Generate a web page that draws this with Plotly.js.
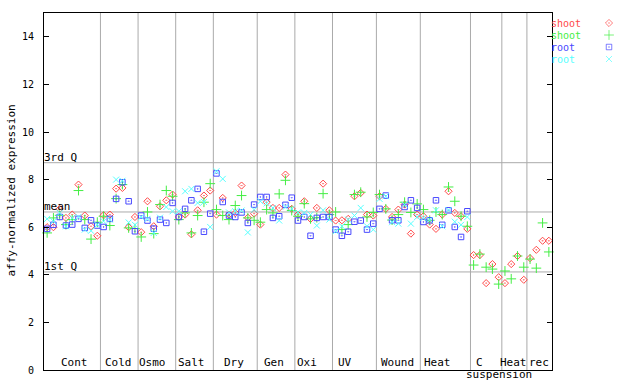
<!DOCTYPE html>
<html><head><meta charset="utf-8">
<script src="https://cdn.plot.ly/plotly-3.0.1.min.js"></script>
<style>html,body{margin:0;padding:0;background:#fff}#chart{width:640px;height:384px}</style>
</head><body><div id="chart"></div>
<script>
// ---- data ----
const groupNames = ['Cont','Cold','Osmo','Salt','Dry','Gen','Oxi','UV','Wound','Heat','C','Heat','rec'];
const groupSizes = [9,6,6,6,7,6,6,7,7,8,5,4,4];
const seriesNames = ['shoot','shoot','root','root'];
const shoot1 = [6.0,6.0,6.77,6.39,6.53,7.79,6.49,6.04,5.64,
  6.5,6.53,7.62,7.65,6.0,6.43,
  5.79,7.09,6.04,6.88,7.13,7.37,
  6.43,6.53,5.7,6.71,7.33,7.54,
  6.53,7.23,6.53,6.6,7.75,6.4,6.57,
  6.11,7.05,6.81,6.81,8.21,6.77,
  6.53,7.09,6.35,6.81,7.83,6.71,
  6.28,6.29,6.35,7.3,7.44,6.53,6.49,
  7.3,6.77,6.43,6.74,6.95,5.73,6.53,
  6.46,6.11,5.93,6.53,7.51,6.6,6.46,5.93,
  4.83,4.83,3.65,4.45,3.9,
  3.65,4.45,4.79,3.79,
  4.7,5.05,5.43,5.43];
const shoot2 = [5.76,6.39,6.5,6.11,6.32,7.54,6.32,5.5,6.21,
  6.46,6.07,7.2,7.79,5.97,5.94,
  5.59,6.64,5.73,6.95,7.54,7.3,
  6.32,6.6,5.76,6.49,7.05,7.83,
  6.74,6.49,6.32,6.91,7.33,6.39,6.29,
  6.21,6.74,6.6,7.4,7.97,6.7,
  6.46,6.99,6.35,6.4,7.41,6.53,
  6.64,5.9,6.11,7.37,7.47,6.43,6.62,
  7.37,6.77,6.3,6.53,7.05,6.62,6.98,
  6.74,6.29,6.64,6.53,7.69,7.09,6.46,6.04,
  4.41,4.87,4.32,4.24,3.61,
  4.16,3.83,4.79,4.32,
  4.66,4.28,6.18,4.96];
const root1 = [5.93,6.1,6.43,6.07,6.11,6.35,5.97,6.29,6.07,
  6.01,6.35,7.19,7.89,7.09,5.83,
  6.49,6.28,5.94,6.32,6.18,7.02,
  6.43,6.77,7.13,7.61,5.81,6.57,
  8.26,7.06,6.49,6.43,6.62,6.18,6.95,
  7.27,7.27,6.39,6.46,6.94,7.24,
  6.28,6.43,5.64,6.39,6.43,6.43,
  5.9,5.64,5.81,6.23,6.28,5.9,6.15,
  6.77,7.33,6.29,6.29,6.85,7.13,6.81,
  6.22,6.29,7.13,6.1,6.71,6.01,5.59,6.67,
  null,null,null,null,null,null,null,null,null,null,null,null,null];
const root2 = [6.35,6.25,6.6,6.04,6.39,6.43,5.9,5.85,6.1,
  6.25,6.32,8.0,7.95,6.2,6.1,
  6.43,6.35,5.76,6.4,6.85,6.67,
  6.67,7.51,7.61,7.02,7.06,6.01,
  8.35,8.03,6.62,6.67,6.7,5.78,6.74,
  7.09,7.0,6.81,6.28,6.85,6.77,
  6.62,6.6,6.53,6.07,6.71,6.32,
  5.83,6.04,6.32,6.49,6.81,6.04,5.9,
  7.19,7.3,6.21,6.15,6.95,6.15,6.43,
  6.39,6.3,6.71,6.04,6.72,6.23,6.1,6.43,
  null,null,null,null,null,null,null,null,null,null,null,null,null];
const refLineNames = ['3rd Q','mean','1st Q'];
const refLineValues = [8.71,6.64,4.12];
const yTicks = [0,2,4,6,8,10,12,14];

// ---- styles ----
const FONT = 'DejaVu Sans Mono, monospace';
const W = 640, H = 384;
const PL = 44, PR = 552, PT = 13, PB = 370;
const colors = ['#ff4848','#44ee44','#4848ff','#55ffff'];
const symbols = ['diamond-open-dot','cross-thin-open','square-open-dot','x-thin-open'];
const sizes = [5.5,7,5.5,6];
const labelShiftPx = [2,-1,-4,-3,-1,-2,-7,-9,-1,-8,-7,-1,0];
const LEG_TOP = 23, LEG_STEP = 12;

const nSamples = shoot1.length;
const xs = shoot1.map((_, i) => i);
const seriesData = [shoot1, shoot2, root1, root2];

const traces = seriesData.map((vals, k) => ({
  type: 'scatter', mode: 'markers', x: xs, y: vals, name: seriesNames[k],
  marker: {symbol: symbols[k], color: colors[k], size: sizes[k], line: {color: colors[k], width: 1}},
  cliponaxis: false, hoverinfo: 'skip'
}));
// legend swatches (custom legend: text left, marker right)
traces.push({
  type: 'scatter', mode: 'markers', xaxis: 'x2', yaxis: 'y2',
  x: seriesNames.map(() => 0.5), y: seriesNames.map((_, k) => k),
  marker: {symbol: symbols, color: colors, size: sizes, line: {color: colors, width: 1}},
  hoverinfo: 'skip'
});

const shapes = [];
const annotations = [];
let start = 0;
const bounds = [];
groupSizes.forEach((n, g) => {
  const end = start + n;
  if (g > 0) bounds.push(start - 0.5);
  const center = (start + end - 1) / 2;
  annotations.push({x: center, y: 0, xref: 'x', yref: 'y', text: groupNames[g], showarrow: false,
    xanchor: 'center', yanchor: 'bottom', xshift: labelShiftPx[g], yshift: 0, borderpad: 0,
    font: {family: FONT, size: 11, color: '#000'}});
  if (groupNames[g] === 'C') {
    annotations.push({x: center, y: 0, xref: 'x', yref: 'y', text: 'suspension', showarrow: false,
      xanchor: 'center', yanchor: 'top', xshift: 13, yshift: 3, borderpad: 0,
      font: {family: FONT, size: 11, color: '#000'}});
  }
  start = end;
});
bounds.forEach(b => shapes.push({type: 'line', xref: 'x', yref: 'paper', x0: b, x1: b,
  y0: 1 - PB / H, y1: 1 - PT / H, line: {color: '#aaaaaa', width: 1}, layer: 'below'}));
refLineValues.forEach((v, k) => {
  shapes.push({type: 'line', xref: 'paper', yref: 'y', x0: PL / W, x1: PR / W, y0: v, y1: v,
    line: {color: '#aaaaaa', width: 1}, layer: 'below'});
  annotations.push({x: (PL - 1) / W, y: v, xref: 'paper', yref: 'y', text: refLineNames[k], showarrow: false,
    xanchor: 'left', yanchor: 'bottom', borderpad: 0, yshift: -2,
    font: {family: FONT, size: 11, color: '#000'}});
});
// legend texts
seriesNames.forEach((nm, k) => {
  annotations.push({x: 550 / W, y: 1 - (LEG_TOP + LEG_STEP * k) / H, xref: 'paper', yref: 'paper', text: nm, showarrow: false,
    xanchor: 'left', yanchor: 'middle', borderpad: 0, font: {family: FONT, size: 10, color: colors[k]}});
});
// y axis title
annotations.push({x: 11.5 / W, y: 1 - 191 / H, xref: 'paper', yref: 'paper', text: 'affy-normalized expression',
  showarrow: false, textangle: -90, xanchor: 'center', yanchor: 'middle',
  font: {family: FONT, size: 11, color: '#000'}});

const layout = {
  width: W, height: H, margin: {l: 0, r: 0, t: 0, b: 0}, paper_bgcolor: '#fff', plot_bgcolor: '#fff',
  showlegend: false, hovermode: false,
  xaxis: {domain: [PL / W, PR / W], range: [-0.5, nSamples - 0.5], showgrid: false, zeroline: false,
    showticklabels: false, ticks: '', showline: true, linecolor: '#000', linewidth: 1, mirror: true},
  yaxis: {domain: [1 - PB / H, 1 - PT / H], range: [0, 15], showgrid: false, zeroline: false,
    tickvals: yTicks, ticktext: yTicks.map(String), ticks: 'inside', ticklen: 5, tickcolor: '#000',
    showline: true, linecolor: '#000', linewidth: 1, mirror: 'ticks', ticklabelstandoff: 7,
    tickfont: {family: FONT, size: 10, color: '#000'}},
  xaxis2: {domain: [599 / W, 619 / W], range: [0, 1], anchor: 'y2', visible: false},
  yaxis2: {domain: [1 - (LEG_TOP + LEG_STEP * 3.5) / H, 1 - (LEG_TOP - LEG_STEP * 0.5) / H], range: [3.5, -0.5], anchor: 'x2', visible: false},
  shapes: shapes, annotations: annotations
};
Plotly.newPlot('chart', traces, layout, {staticPlot: true, displayModeBar: false});
</script></body></html>
